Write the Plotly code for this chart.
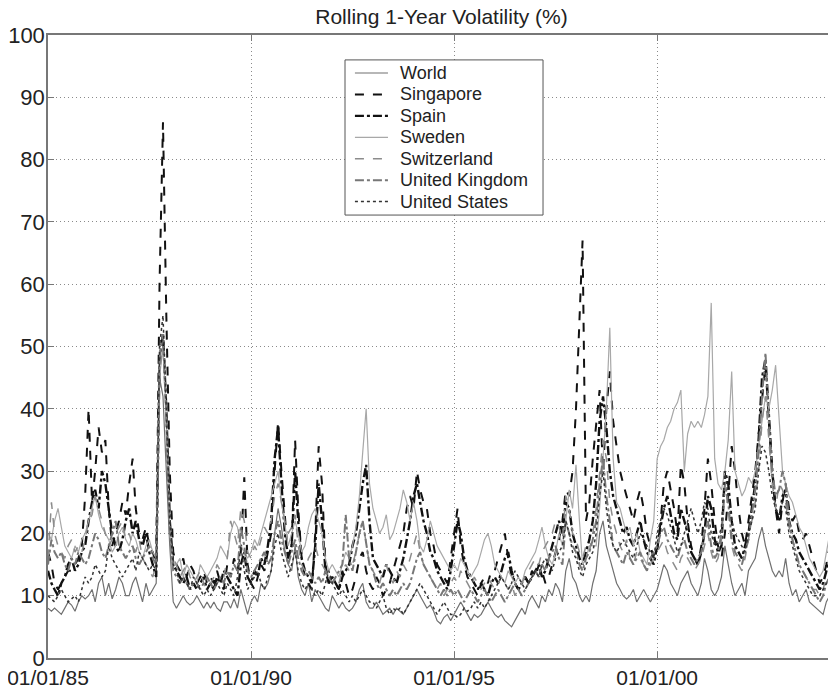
import pandas as pd
import plotly.graph_objects as go

# monthly samples, Jan 1985 .. May 2004
dates = pd.date_range("1985-01-01", periods=233, freq="MS")

world = [
    8, 7.5, 8, 7.5, 7, 8, 9, 8.5, 7.5, 9, 10, 9.5,          # 1985
    10, 11, 9, 12, 13, 10, 12, 9.5, 11, 13, 12, 10,         # 1986
    10, 12, 13, 11, 9, 12, 10, 11, 12, 45, 42, 30,          # 1987
    18, 9, 8, 9, 10, 9, 8.5, 9, 10, 9, 8, 9,                # 1988
    8, 9, 8, 7.5, 9, 9, 8, 9.5, 8, 11, 9, 7,                # 1989
    9, 10, 9, 12, 11, 12, 14, 20, 24, 21, 17, 15,           # 1990
    14, 18, 13, 11, 10, 12, 9, 11, 10, 9, 8, 7.5,           # 1991
    10, 9, 8, 9, 8, 7.5, 8, 9, 11, 12, 9, 8,                # 1992
    8, 9, 8, 7, 7.5, 8, 7, 8, 7.5, 7, 8, 9,                 # 1993
    10, 11, 10, 9, 8, 8.5, 7.5, 6, 5.5, 6.5, 7, 6,          # 1994
    7, 8, 9, 8, 7, 6, 7, 6.5, 7, 8, 9, 8,                   # 1995
    7, 6.5, 7, 6, 5.5, 5, 6, 7, 8, 7, 9, 10,                # 1996
    9, 8, 10, 9, 11, 10, 12, 11, 9, 14, 16, 13,             # 1997
    12, 10, 9, 10, 9, 12, 14, 20, 22, 18, 16, 14,           # 1998
    12, 11, 10, 9.5, 10, 11, 9, 10, 11, 10, 9, 10,          # 1999
    11, 13, 15, 14, 12, 11, 10, 12, 13, 14, 12, 11,         # 2000
    10, 12, 16, 14, 11, 10, 11, 13, 18, 15, 12, 10,         # 2001
    11, 12, 10, 14, 15, 16, 19, 21, 18, 16, 14, 13,         # 2002
    14, 13, 16, 12, 10, 11, 9, 10, 11, 9, 8.5, 8,           # 2003
    7.5, 7, 9, 10, 11,                                      # 2004
]

singapore = [
    17, 15, 12, 11, 12, 13, 14, 14, 15, 16, 18, 26,
    40, 25, 30, 37, 33, 35, 24, 18, 20, 22, 25, 23,
    28, 32, 24, 20, 19, 21, 18, 17, 15, 60, 86, 55,
    30, 17, 15, 14, 16, 13, 15, 14, 12, 13, 14, 12,
    13, 12, 14, 12, 11, 15, 13, 16, 14, 17, 29, 15,
    12, 11, 13, 15, 14, 17, 20, 30, 38, 30, 22, 16,
    18, 35, 24, 16, 13, 12, 11, 20, 34, 28, 15, 12,
    13, 12, 11, 14, 12, 10, 11, 13, 16, 17, 14, 12,
    11, 13, 12, 10, 11, 12, 14, 16, 18, 20, 24, 26,
    24, 30, 27, 25, 24, 20, 18, 15, 14, 13, 12, 16,
    20, 24, 18, 15, 13, 12, 11, 10, 12, 13, 12, 14,
    14, 16, 18, 20, 16, 13, 12, 11, 12, 13, 12, 14,
    13, 15, 14, 12, 13, 15, 17, 19, 22, 27, 26, 30,
    40, 55, 67, 22, 25, 32, 38, 43, 30, 40, 46, 38,
    34, 30, 28, 26, 24, 22, 25, 27, 24, 20, 18, 16,
    17, 22, 28, 30, 27, 24, 20, 31, 28, 22, 18, 16,
    15, 18, 24, 32, 28, 22, 18, 16, 20, 26, 34, 30,
    24, 20, 18, 22, 26, 30, 36, 42, 47, 38, 30, 24,
    20, 25, 28, 24, 22, 23, 20, 19, 20, 18, 16, 14,
    12, 13, 15, 18, 22,
]

spain = [
    14, 12, 11, 10, 12, 13, 15, 16, 14, 15, 17, 18,
    22, 25, 27, 24, 30, 28, 24, 20, 18, 17, 19, 22,
    24, 20, 22, 19, 18, 20, 17, 15, 13, 48, 52, 40,
    22, 15, 14, 13, 12, 13, 11, 12, 11, 12, 13, 11,
    12, 11, 13, 12, 14, 13, 12, 11, 10, 15, 17, 13,
    12, 14, 13, 16, 15, 18, 22, 32, 37, 28, 20, 16,
    18, 30, 22, 16, 14, 13, 12, 18, 28, 22, 14, 12,
    13, 12, 11, 13, 14, 15, 18, 20, 24, 28, 31, 22,
    16, 15, 14, 13, 15, 14, 13, 12, 14, 16, 19, 22,
    26, 28, 25, 22, 20, 17, 16, 14, 13, 12, 11, 14,
    18, 22, 20, 16, 14, 13, 12, 11, 12, 11, 10, 12,
    13, 12, 14, 16, 17, 14, 12, 11, 12, 13, 12, 13,
    14, 15, 13, 14, 16, 18, 20, 22, 20, 25, 24, 20,
    18, 16, 15, 17, 19, 22, 28, 38, 42, 37, 30, 26,
    24, 22, 20, 21, 19, 18, 20, 22, 19, 17, 16, 15,
    18, 21, 24, 26, 23, 20, 19, 24, 22, 20, 17, 16,
    15, 17, 20, 26, 24, 19, 17, 18, 30, 28, 22, 18,
    17, 16, 18, 20, 24, 28, 35, 45, 48, 40, 30, 24,
    22, 26, 27, 22, 20, 19, 17, 16, 15, 14, 13, 12,
    11, 12, 14, 16, 18,
]

sweden = [
    20, 19, 22, 24, 21, 18, 17, 16, 18, 17, 19, 20,
    22, 24, 26, 23, 21, 20, 19, 17, 18, 20, 21, 19,
    18, 20, 19, 17, 16, 18, 19, 17, 16, 45, 50, 38,
    20, 15, 15, 16, 13, 15, 14, 13, 12, 15, 14, 13,
    14, 15, 16, 18, 17, 16, 20, 22, 21, 18, 17, 16,
    17, 19, 18, 20, 22, 24, 26, 28, 30, 25, 21, 18,
    20, 22, 20, 17, 18, 21, 23, 24, 22, 20, 16, 14,
    15, 14, 13, 15, 17, 16, 18, 21, 26, 33, 40, 28,
    24, 22, 20, 21, 23, 19, 20, 22, 24, 27, 25, 22,
    25, 22, 18, 17, 19, 22, 20, 18, 17, 16, 15, 14,
    15, 14, 16, 15, 14, 13, 14, 15, 17, 19, 20, 18,
    15, 14, 13, 12, 14, 13, 12, 13, 12, 14, 15, 16,
    17, 19, 21, 18, 16, 15, 17, 20, 18, 22, 27, 24,
    31, 22, 15, 16, 18, 18, 18, 24, 33, 40, 53, 32,
    25, 24, 22, 20, 21, 18, 20, 17, 16, 15, 19, 22,
    32, 34, 35, 37, 38, 40, 41, 43, 30, 36, 38, 37,
    38, 37, 39, 42, 57, 32, 28, 27, 30, 35, 46, 30,
    28, 26, 27, 29, 28, 30, 34, 38, 42, 40, 43, 47,
    38, 30, 28, 26, 25, 23, 21, 20, 18, 16, 15, 14,
    13, 14, 17, 20, 22,
]

switzerland = [
    16, 25, 20, 18, 17, 16, 18, 19, 17, 18, 17, 19,
    22, 23, 26, 24, 22, 20, 18, 19, 20, 21, 22, 19,
    20, 18, 17, 19, 16, 15, 14, 13, 15, 46, 50, 38,
    20, 16, 15, 13, 14, 15, 13, 12, 13, 14, 12, 11,
    12, 13, 15, 14, 13, 16, 22, 20, 18, 24, 22, 17,
    16, 18, 17, 19, 21, 20, 22, 26, 28, 25, 22, 20,
    21, 23, 18, 15, 14, 16, 17, 18, 16, 15, 14, 13,
    12, 13, 12, 14, 15, 14, 15, 17, 20, 22, 18, 15,
    14, 13, 12, 14, 15, 13, 12, 14, 13, 15, 14, 16,
    18, 20, 17, 15, 14, 13, 12, 11, 12, 10, 11, 12,
    13, 12, 14, 13, 12, 11, 13, 12, 11, 12, 13, 12,
    11, 12, 13, 12, 11, 12, 10, 11, 12, 13, 14, 15,
    16, 15, 17, 18, 19, 20, 22, 21, 19, 26, 24, 20,
    19, 17, 16, 18, 17, 20, 24, 30, 35, 32, 25, 22,
    20, 18, 17, 19, 16, 15, 17, 16, 15, 14, 15, 16,
    17, 18, 19, 17, 16, 15, 14, 16, 17, 16, 15, 14,
    15, 16, 18, 20, 17, 15, 16, 19, 28, 24, 18, 16,
    15, 14, 16, 19, 22, 25, 30, 38, 42, 35, 28, 24,
    28, 27, 25, 21, 19, 17, 15, 14, 13, 12, 11, 11,
    10, 11, 13, 14, 15,
]

united_kingdom = [
    15, 19, 17, 16, 17, 15, 14, 16, 15, 17, 16, 15,
    16, 18, 20, 19, 17, 16, 18, 20, 22, 18, 17, 16,
    17, 18, 16, 15, 16, 17, 18, 16, 15, 48, 52, 40,
    20, 14, 13, 12, 13, 12, 11, 12, 12, 11, 12, 13,
    12, 11, 12, 13, 12, 14, 13, 15, 14, 21, 18, 14,
    13, 14, 15, 16, 17, 15, 16, 20, 22, 19, 17, 15,
    17, 19, 16, 14, 13, 14, 13, 12, 13, 12, 14, 13,
    12, 13, 14, 15, 23, 16, 14, 17, 20, 22, 18, 15,
    14, 12, 11, 12, 11, 10, 11, 10, 11, 12, 11, 12,
    14, 16, 17, 15, 14, 13, 12, 11, 10, 11, 10, 11,
    10, 11, 10, 9, 10, 11, 10, 9, 10, 11, 10, 9,
    10, 11, 10, 9, 10, 11, 12, 11, 10, 11, 12, 13,
    14, 13, 15, 14, 16, 17, 18, 16, 15, 22, 20, 18,
    17, 15, 14, 16, 17, 19, 22, 28, 32, 26, 22, 18,
    17, 16, 15, 17, 16, 15, 16, 17, 15, 14, 16, 17,
    18, 20, 21, 19, 18, 17, 16, 18, 19, 17, 16, 15,
    16, 17, 20, 22, 18, 16, 17, 20, 28, 25, 19, 17,
    16, 15, 17, 19, 23, 27, 33, 42, 49, 38, 30, 26,
    27, 30, 28, 22, 19, 17, 15, 14, 13, 12, 11, 10,
    9, 10, 12, 13, 14,
]

united_states = [
    10, 9.5, 9, 10, 11, 10, 9, 9.5, 10, 9, 11, 13,
    12, 13, 15, 14, 13, 14, 18, 16, 15, 14, 13, 14,
    15, 16, 14, 17, 16, 15, 14, 15, 14, 50, 55, 40,
    22, 15, 14, 12, 13, 12, 11, 13, 12, 11, 10, 11,
    10, 11, 12, 11, 10, 12, 11, 10, 13, 18, 14, 11,
    12, 13, 14, 12, 11, 13, 14, 18, 20, 17, 15, 13,
    15, 17, 14, 12, 11, 12, 11, 10, 11, 10, 12, 14,
    12, 11, 10, 11, 10, 9, 10, 9, 10, 11, 10, 9,
    9, 8, 9, 10, 8, 7, 8, 7.5, 8, 7, 8, 9,
    10, 11, 12, 11, 10, 9, 8, 7, 8, 9, 8, 7,
    7, 6.5, 7, 8, 7.5, 8, 9, 8, 9, 8, 9, 10,
    11, 12, 13, 12, 11, 12, 14, 13, 12, 11, 12, 13,
    14, 13, 15, 16, 15, 14, 16, 17, 18, 22, 20, 17,
    16, 14, 13, 15, 16, 17, 20, 26, 30, 24, 20, 18,
    17, 18, 19, 18, 17, 16, 18, 20, 19, 18, 17, 16,
    20, 22, 24, 23, 21, 19, 17, 18, 20, 22, 24, 22,
    20, 22, 25, 24, 20, 18, 19, 21, 30, 26, 22, 20,
    19, 18, 17, 20, 22, 24, 30, 34, 33, 30, 26, 24,
    23, 25, 24, 20, 18, 16, 14, 13, 12, 11, 10, 10,
    10, 11, 12, 13, 14,
]

series = [
    ("World", world, "#707070", "solid", 1.2),
    ("Singapore", singapore, "#111111", "dash", 2),
    ("Spain", spain, "#111111", "dashdot", 2.4),
    ("Sweden", sweden, "#a8a8a8", "solid", 1.2),
    ("Switzerland", switzerland, "#8c8c8c", "dash", 1.5),
    ("United Kingdom", united_kingdom, "#777777", "dashdot", 2),
    ("United States", united_states, "#333333", "dot", 1.5),
]

fig = go.Figure()
for name, vals, color, dash, width in series:
    fig.add_trace(
        go.Scatter(
            x=dates,
            y=vals,
            mode="lines",
            name=name,
            line=dict(color=color, dash=dash, width=width),
            showlegend=False,
        )
    )

# legend box drawn by hand so the row spacing can be tight
fig.add_shape(
    type="rect", xref="paper", yref="paper",
    x0=0.3774, x1=0.629, y0=0.711, y1=0.96,
    line=dict(color="#555555", width=1), fillcolor="white",
)
for i, (name, vals, color, dash, width) in enumerate(series):
    yp = 0.939 - 0.0344 * i
    fig.add_shape(
        type="line", xref="paper", yref="paper",
        x0=0.390, x1=0.432, y0=yp, y1=yp,
        line=dict(color=color, dash=dash, width=width),
    )
    fig.add_annotation(
        xref="paper", yref="paper", x=0.4447, y=yp,
        text=name, showarrow=False, xanchor="left", yanchor="middle",
        font=dict(size=18, color="#222222"),
    )

axis_style = dict(
    showgrid=True,
    gridcolor="#8a8a8a",
    griddash="1px,3px",
    gridwidth=1,
    ticks="inside",
    ticklen=6,
    tickcolor="#777777",
    showline=True,
    linecolor="#777777",
    linewidth=1.5,
    mirror="ticks",
    zeroline=False,
    automargin=False,
    ticklabeloverflow="allow",
)

fig.update_xaxes(
    type="date",
    range=["1985-01-01", "2004-05-18"],
    tick0="1985-01-01",
    dtick="M60",
    tickformat="%m/%d/%y",
    tickfont=dict(size=21, color="#222222"),
    ticklabelstandoff=0,
    **axis_style,
)
fig.update_yaxes(
    range=[0, 100],
    dtick=10,
    tickfont=dict(size=22, color="#222222"),
    ticklabelstandoff=-3,
    **axis_style,
)

# page body adds an 8px offset, so the figure is 8px smaller
fig.update_layout(
    width=828,
    height=679,
    margin=dict(l=40, r=1, t=27, b=29),
    paper_bgcolor="white",
    plot_bgcolor="white",
    font=dict(family="Liberation Sans, Arial, sans-serif", color="#222222"),
    title=dict(
        text="Rolling 1-Year Volatility (%)",
        x=0.5,
        xref="paper",
        y=0.988,
        yref="container",
        yanchor="middle",
        font=dict(size=21),
    ),
    showlegend=False,
)

fig.write_html("out.html")
